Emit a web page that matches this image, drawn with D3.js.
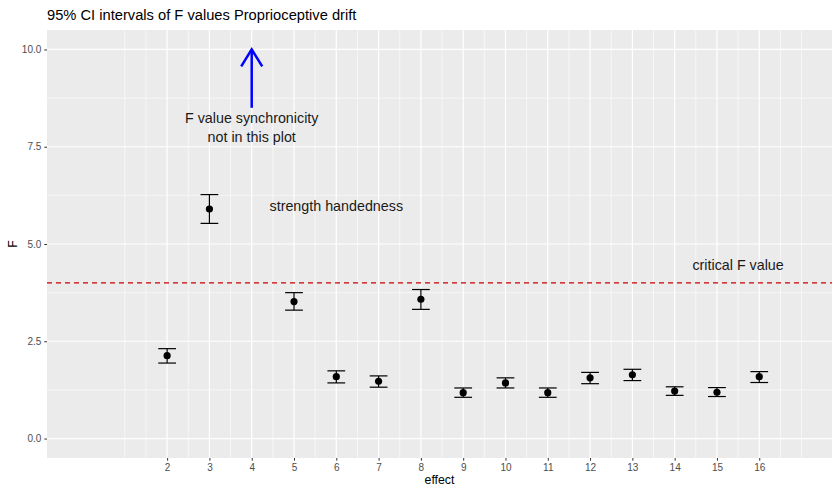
<!DOCTYPE html>
<html><head><meta charset="utf-8">
<script src="https://cdn.jsdelivr.net/npm/d3@7"></script>
<style>body{margin:0;background:#fff;} text{font-family:"Liberation Sans",Arial,Helvetica,sans-serif;}</style>
</head><body>
<svg id="chart" width="832" height="489"></svg>
<script>
// Data
const effects = [2, 3, 5, 6, 7, 8, 9, 10, 11, 12, 13, 14, 15, 16];
const fValues = [2.13, 5.90, 3.52, 1.59, 1.47, 3.58, 1.18, 1.43, 1.18, 1.56, 1.64, 1.22, 1.19, 1.59];
const ciLower = [1.94, 5.53, 3.30, 1.43, 1.32, 3.32, 1.06, 1.30, 1.06, 1.41, 1.49, 1.11, 1.08, 1.44];
const ciUpper = [2.31, 6.27, 3.75, 1.74, 1.61, 3.83, 1.30, 1.56, 1.30, 1.70, 1.78, 1.33, 1.31, 1.72];
const xTicks = [2, 3, 4, 5, 6, 7, 8, 9, 10, 11, 12, 13, 14, 15, 16];
const yTicks = [0, 2.5, 5, 7.5, 10];
const criticalF = 4.0;
const titleText = "95% CI intervals of F values Proprioceptive drift";
const xLabel = "effect";
const yLabel = "F";
const annotations = [
  {x: 4, y: 8, lines: ["F value synchronicity", "not in this plot"]},
  {x: 6, y: 5.98, lines: ["strength handedness"]},
  {x: 15.5, y: 4.45, lines: ["critical F value"]}
];
const arrowData = {x: 4, yStart: 8.5, yEnd: 10};

const svg = d3.select("#chart");
const panel = {left: 47, right: 832, top: 30, bottom: 458};

const x = d3.scaleLinear().domain([-0.84, 17.72]).range([panel.left, panel.right]);
const y = d3.scaleLinear().domain([-0.5, 10.5]).range([panel.bottom, panel.top]);

// panel background
svg.append("rect").attr("x", panel.left).attr("y", panel.top)
  .attr("width", panel.right - panel.left).attr("height", panel.bottom - panel.top)
  .attr("fill", "#ebebeb");

// grid
const xMinor = d3.range(1, 17.01, 0.5).filter(v => v % 1 !== 0 || v === 1 || v === 17);
const yMinor = [1.25, 3.75, 6.25, 8.75];
const grid = svg.append("g");
xMinor.forEach(v => grid.append("line").attr("x1", x(v)).attr("x2", x(v))
  .attr("y1", panel.top).attr("y2", panel.bottom).attr("stroke", "#fff").attr("stroke-width", 0.6));
yMinor.forEach(v => grid.append("line").attr("y1", y(v)).attr("y2", y(v))
  .attr("x1", panel.left).attr("x2", panel.right).attr("stroke", "#fff").attr("stroke-width", 0.6));
xTicks.forEach(v => grid.append("line").attr("x1", x(v)).attr("x2", x(v))
  .attr("y1", panel.top).attr("y2", panel.bottom).attr("stroke", "#fff").attr("stroke-width", 1.2));
yTicks.forEach(v => grid.append("line").attr("y1", y(v)).attr("y2", y(v))
  .attr("x1", panel.left).attr("x2", panel.right).attr("stroke", "#fff").attr("stroke-width", 1.2));

// axes
const xAxis = svg.append("g").attr("transform", `translate(0,${panel.bottom})`)
  .call(d3.axisBottom(x).tickValues(xTicks).tickFormat(d3.format("d")).tickSize(2.7).tickPadding(3));
const yAxis = svg.append("g").attr("transform", `translate(${panel.left},0)`)
  .call(d3.axisLeft(y).tickValues(yTicks).tickFormat(d3.format(".1f")).tickSize(2.7).tickPadding(3));
[xAxis, yAxis].forEach(a => {
  a.select(".domain").remove();
  a.selectAll(".tick line").attr("stroke", "#333").attr("stroke-width", 1);
  a.selectAll(".tick text").attr("fill", "#4d4d4d").style("font-size", "10px")
   .style("font-family", "Liberation Sans, Arial, sans-serif");
});

// critical line
svg.append("line").attr("x1", panel.left).attr("x2", panel.right)
  .attr("y1", y(criticalF)).attr("y2", y(criticalF))
  .attr("stroke", "#cc0000").attr("stroke-width", 1.3).attr("stroke-dasharray", "5,4");

// error bars
const capHalf = 0.21;
const eb = svg.append("g");
effects.forEach((e, i) => {
  eb.append("line").attr("x1", x(e)).attr("x2", x(e)).attr("y1", y(ciLower[i])).attr("y2", y(ciUpper[i]))
    .attr("stroke", "#000").attr("stroke-width", 1.2);
  [ciLower[i], ciUpper[i]].forEach(v => eb.append("line")
    .attr("x1", x(e - capHalf)).attr("x2", x(e + capHalf)).attr("y1", y(v)).attr("y2", y(v))
    .attr("stroke", "#000").attr("stroke-width", 1.2));
  eb.append("circle").attr("cx", x(e)).attr("cy", y(fValues[i])).attr("r", 3.6).attr("fill", "#000");
});

// arrow
const ax = x(arrowData.x), ay0 = y(arrowData.yStart), ay1 = y(arrowData.yEnd);
svg.append("line").attr("x1", ax).attr("x2", ax).attr("y1", ay0).attr("y2", ay1)
  .attr("stroke", "#0000ff").attr("stroke-width", 2.5);
svg.append("path").attr("d", `M${ax-10.5},${ay1+17} L${ax},${ay1} L${ax+10.5},${ay1+17}`)
  .attr("fill", "none").attr("stroke", "#0000ff").attr("stroke-width", 2.5).attr("stroke-linejoin", "miter");

// annotations
annotations.forEach(a => {
  const n = a.lines.length, lh = 19;
  const t = svg.append("text").attr("x", x(a.x)).attr("y", y(a.y)).attr("text-anchor", "middle")
    .attr("fill", "#1a1a1a").style("font-size", "14.3px");
  a.lines.forEach((l, k) => t.append("tspan").attr("x", x(a.x))
    .attr("dy", k === 0 ? ((-(n - 1) / 2) * lh + 5) : lh).text(l));
});

// title & labels
svg.append("text").attr("x", panel.left).attr("y", 20).attr("fill", "#000")
  .style("font-size", "14.7px").text(titleText);
svg.append("text").attr("x", (panel.left + panel.right) / 2).attr("y", 484).attr("text-anchor", "middle")
  .attr("fill", "#000").style("font-size", "12.3px").text(xLabel);
svg.append("text").attr("transform", `translate(17,${(panel.top + panel.bottom) / 2}) rotate(-90)`)
  .attr("text-anchor", "middle").attr("fill", "#000").style("font-size", "12.3px").text(yLabel);
</script>
</body></html>
